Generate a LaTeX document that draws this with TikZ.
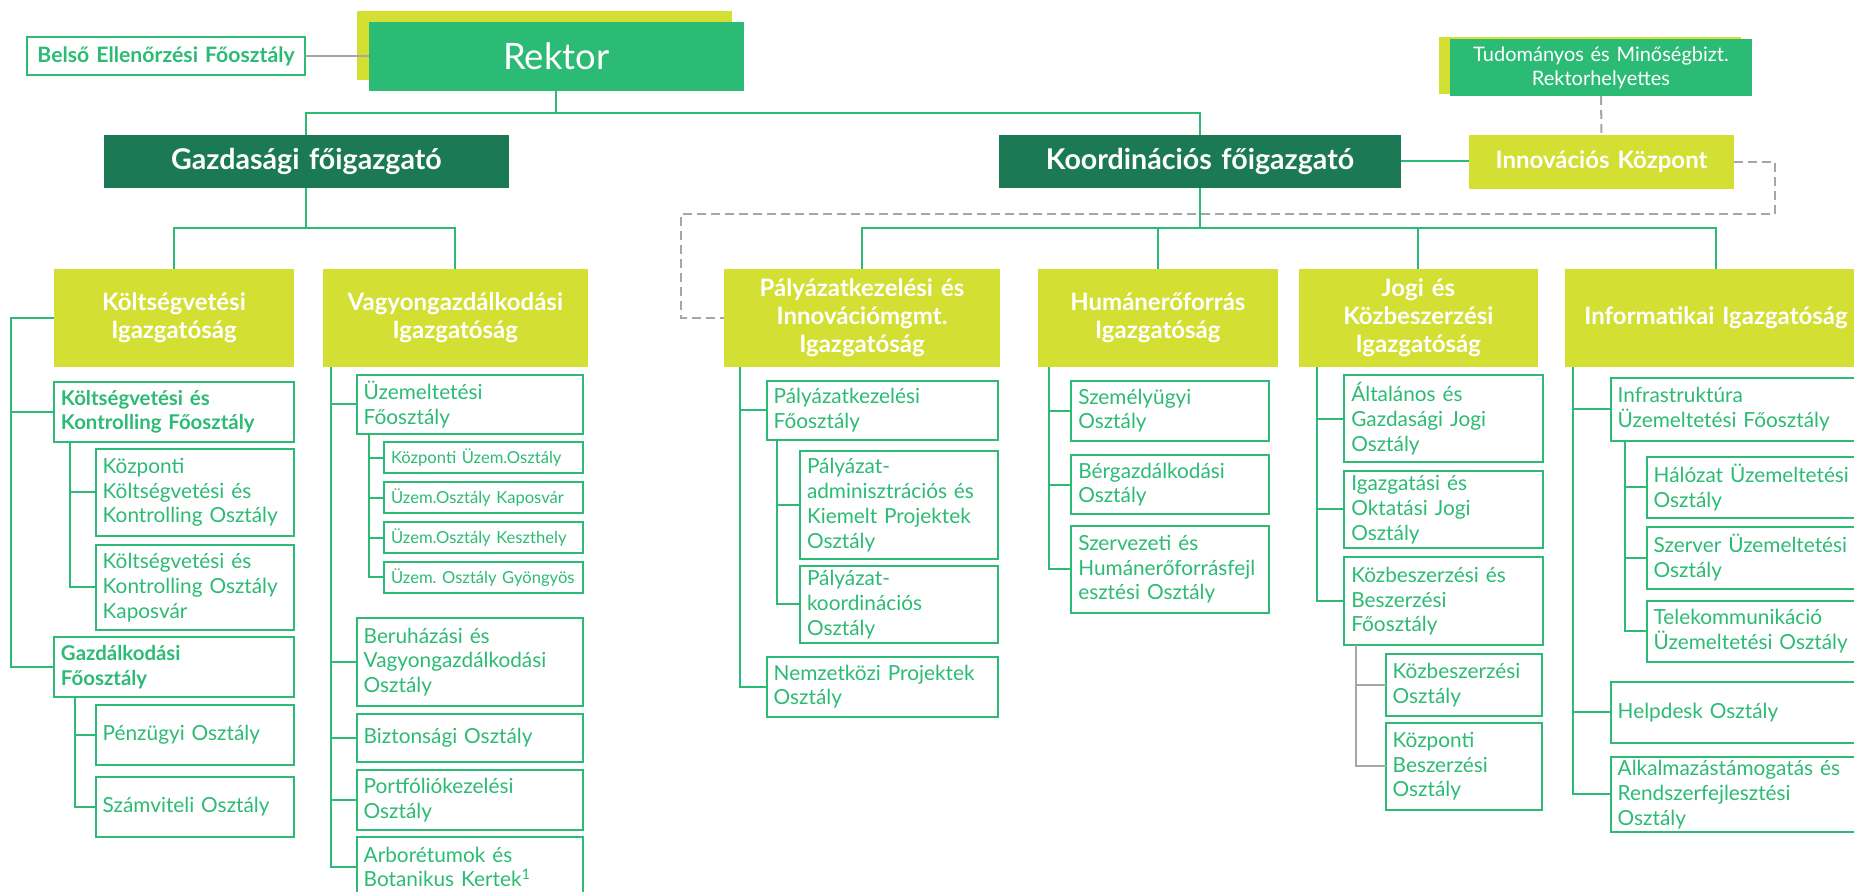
\documentclass[tikz,border=0pt]{standalone}
\usepackage{fontspec}
\setmainfont{Lato}
\usetikzlibrary{calc}
\definecolor{grn}{HTML}{2CBB75}
\definecolor{dgrn}{HTML}{1B7A55}
\definecolor{ylw}{HTML}{D4DF33}
\definecolor{gry}{HTML}{A6A6A6}
\tikzset{
 bx/.style={rectangle, inner xsep=3pt, inner ysep=0pt, outer sep=0pt, execute at begin node={\hyphenpenalty=10000\exhyphenpenalty=10000}},
 boxw/.style={bx, draw=grn, fill=white, line width=1pt, text=grn, align=left, font=\fontsize{10.4}{12.4}\selectfont},
 boxb/.style={boxw, font=\bfseries\fontsize{10.2}{12.4}\selectfont},
 boxs/.style={boxw, font=\fontsize{8.3}{10}\selectfont},
 lvl/.style={bx, fill=ylw, text=white, align=center, font=\bfseries\fontsize{12}{14}\selectfont},
 dark/.style={bx, fill=dgrn, text=white, align=center, font=\bfseries\fontsize{14.3}{16}\selectfont},
 rekt/.style={bx, fill=grn, text=white, align=center, font=\fontsize{18.2}{20}\selectfont},
 tudst/.style={bx, fill=grn, text=white, align=center, font=\fontsize{10}{12}\selectfont},
 innovst/.style={bx, fill=ylw, text=white, align=center, font=\bfseries\fontsize{12}{14}\selectfont},
 belsost/.style={bx, draw=grn, line width=1pt, fill=white, text=grn, align=center, font=\bfseries\fontsize{10.6}{12.5}\selectfont},
 shad/.style={bx, fill=ylw},
 conn/.style={draw=grn, line width=1pt},
 grayconn/.style={draw=gry, line width=1pt},
 dashconn/.style={draw=gry, line width=1pt, dash pattern=on 4.5pt off 2.5pt},
}
\newcommand\BX[7]{%
  \pgfmathsetmacro\bxw{(#5-#3)*0.5}%
  \pgfmathsetmacro\bxh{(#6-#4)*0.5}%
  \pgfmathsetmacro\bxt{(#5-#3)*0.5-7}%
  \node[#2, anchor=north west, minimum width=\bxw pt, minimum height=\bxh pt, text width=\bxt pt] (#1) at (#3,#4) {#7};}
\begin{document}
\begin{tikzpicture}[x=0.5pt,y=-0.5pt]
\useasboundingbox (0,0) rectangle (1854,892);
\clip (0,0) rectangle (1854,892);
\fill[white] (0,0) rectangle (1854,892);
% top level
\BX{rsh}{shad}{357}{11}{732}{80}{}
\BX{rektor}{rekt}{368.8}{22}{743.7}{90.7}{Rektor}
\BX{belso}{belsost}{26.9}{37.3}{305.2}{75}{\mbox{Belső Ellenőrzési Főosztály}}
\BX{tsh}{shad}{1439}{37.3}{1741}{94}{}
\BX{tud}{tudst}{1450}{39}{1752}{96}{Tudományos és Minőségbizt.\\Rektorhelyettes}
\BX{gazd}{dark}{104}{135}{508.8}{187.7}{Gazdasági főigazgató}
\BX{koord}{dark}{999}{135}{1401}{187.7}{Koordinációs főigazgató}
\BX{innov}{innovst}{1469}{135}{1734}{188.7}{Innovációs Központ}
% level 2
\BX{koltig}{lvl}{54}{269}{294}{367.3}{Költségvetési\\Igazgatóság}
\BX{vagyon}{lvl}{323}{269}{587.7}{367.3}{Vagyongazdálkodási\\Igazgatóság}
\BX{palig}{lvl}{724}{269}{1000}{367.3}{Pályázatkezelési és\\Innovációmgmt.\\Igazgatóság}
\BX{humig}{lvl}{1038}{269}{1277.7}{367.3}{Humánerőforrás\\Igazgatóság}
\BX{jogig}{lvl}{1299}{269}{1537.7}{367.3}{Jogi és\\Közbeszerzési\\Igazgatóság}
\BX{infig}{lvl}{1565}{269}{1867}{367.3}{Informatikai~Igazgatóság}
% Költségvetési
\BX{kkf}{boxb}{54}{381.7}{294}{441.7}{Költségvetési és\\Kontrolling~Főosztály}
\BX{kkoz}{boxw}{95.7}{448.7}{294}{536}{Központi\\Költségvetési~és\\Kontrolling~Osztály}
\BX{kkap}{boxw}{95.7}{544.7}{294}{630}{Költségvetési~és\\Kontrolling~Osztály\\Kaposvár}
\BX{gfo}{boxb}{54}{637.3}{294}{697.3}{Gazdálkodási\\Főosztály}
\BX{penz}{boxw}{95.7}{705}{294}{765}{Pénzügyi~Osztály}
\BX{szam}{boxw}{95.7}{776.7}{294}{836.7}{Számviteli~Osztály}
% Vagyongazdálkodási
\BX{uzfo}{boxw}{356.7}{374.7}{582.7}{434}{Üzemeltetési\\Főosztály}
\BX{uz1}{boxs}{384}{442.3}{582.7}{473.3}{Központi~Üzem.Osztály}
\BX{uz2}{boxs}{384}{482.3}{582.7}{513.3}{Üzem.Osztály~Kaposvár}
\BX{uz3}{boxs}{384}{522}{582.7}{553.3}{Üzem.Osztály~Keszthely}
\BX{uz4}{boxs}{384}{562}{582.7}{592.7}{Üzem.~Osztály~Gyöngyös}
\BX{beru}{boxw}{356.7}{618.3}{582.7}{705.7}{Beruházási és\\Vagyongazdálkodási\\Osztály}
\BX{bizt}{boxw}{356.7}{713.7}{582.7}{762.3}{Biztonsági~Osztály}
\BX{portf}{boxw}{356.7}{770}{582.7}{830}{Portfóliókezelési\\Osztály}
\BX{arbo}{boxw}{356.7}{836.7}{582.7}{897}{Arborétumok~és\\Botanikus~Kertek\textsuperscript{1}}
% Pályázat
\BX{palfo}{boxw}{766.7}{380.7}{998.3}{440}{Pályázatkezelési\\Főosztály}
\BX{paladm}{boxw}{800}{451}{998.3}{559}{Pályázat-\\adminisztrációs~és\\Kiemelt~Projektek\\Osztály}
\BX{palkoord}{boxw}{800}{565.7}{998.3}{643.3}{Pályázat-\\koordinációs\\Osztály}
\BX{nemz}{boxw}{766.7}{656.7}{998.3}{716.7}{Nemzetközi~Projektek\\Osztály}
% Humán
\BX{szem}{boxw}{1071.3}{380.7}{1269}{440.7}{Személyügyi\\Osztály}
\BX{ber}{boxw}{1071.3}{455}{1269}{514.3}{Bérgazdálkodási\\Osztály}
\BX{szerv}{boxw}{1071.3}{525.7}{1269}{612.7}{Szervezeti~és\\Humánerőforrásfejl\\esztési~Osztály}
% Jogi
\BX{alt}{boxw}{1344.3}{375}{1542.7}{462.3}{Általános~és\\Gazdasági~Jogi\\Osztály}
\BX{igaz}{boxw}{1344.3}{470.7}{1542.7}{548.3}{Igazgatási~és\\Oktatási~Jogi\\Osztály}
\BX{kbfo}{boxw}{1344.3}{557.3}{1542.7}{645}{Közbeszerzési~és\\Beszerzési\\Főosztály}
\BX{kbo}{boxw}{1385.7}{654}{1542.3}{716}{Közbeszerzési\\Osztály}
\BX{kpb}{boxw}{1385.7}{722.7}{1542.3}{810}{Központi\\Beszerzési\\Osztály}
% Informatikai
\BX{infra}{boxw}{1610.7}{378.3}{1880}{440.7}{Infrastruktúra\\Üzemeltetési~Főosztály}
\BX{hal}{boxw}{1646.7}{456.7}{1880}{518.3}{Hálózat~Üzemeltetési\\Osztály}
\BX{szerver}{boxw}{1646.7}{526.7}{1880}{589}{Szerver~Üzemeltetési\\Osztály}
\BX{tele}{boxw}{1646.7}{600.7}{1880}{662.3}{Telekommunikáció\\Üzemeltetési~Osztály}
\BX{help}{boxw}{1610.7}{681.7}{1880}{743.3}{Helpdesk~Osztály}
\BX{alk}{boxw}{1610.7}{756.7}{1880}{832.3}{Alkalmazástámogatás~és\\Rendszerfejlesztési\\Osztály}
% helper coordinates
\coordinate (h1) at (0,112.7);
\coordinate (h2) at (0,228.3);
\coordinate (d1) at (1775,214);
\coordinate (d2) at (681,214);
\coordinate (bk) at (11,0);
\coordinate (bk2) at (70,0);
\coordinate (bk3) at (75,0);
\coordinate (bv) at (330.7,0);
\coordinate (bv2) at (369,0);
\coordinate (bp) at (740,0);
\coordinate (bp2) at (776.7,0);
\coordinate (bh) at (1049,0);
\coordinate (bj) at (1316.7,0);
\coordinate (bj2) at (1356,0);
\coordinate (bi) at (1573.3,0);
\coordinate (bi2) at (1624.7,0);
% connectors
\draw[grayconn] (belso.east) -- (belso.east -| rektor.west);
\draw[conn] (rektor.south) -- (rektor.south |- h1) -| (gazd.north);
\draw[conn] (rektor.south |- h1) -| (koord.north);
\draw[conn] (gazd.south) -- (gazd.south |- h2) -| (koltig.north);
\draw[conn] (gazd.south |- h2) -| (vagyon.north);
\draw[conn] (koord.south) -- (koord.south |- h2) -| (palig.north);
\draw[conn] (koord.south |- h2) -| (humig.north);
\draw[conn] (koord.south |- h2) -| (jogig.north);
\draw[conn] (koord.south |- h2) -| (infig.north);
\draw[conn] (koord.east) -- (koord.east -| innov.west);
\draw[dashconn] (tud.south) -- (innov.north);
\draw[dashconn] (innov.east) -| (d1) -- (d2) |- (palig.west);
% Költségvetési
\draw[conn] (koltig.west) -| (bk |- gfo.west) -- (gfo.west);
\draw[conn] (bk |- kkf.west) -- (kkf.west);
\draw[conn] (kkf.south -| bk2) |- (kkap.west);
\draw[conn] (bk2 |- kkoz.west) -- (kkoz.west);
\draw[conn] (gfo.south -| bk3) |- (szam.west);
\draw[conn] (bk3 |- penz.west) -- (penz.west);
% Vagyon
\draw[conn] (vagyon.south -| bv) |- (arbo.west);
\draw[conn] (bv |- uzfo.west) -- (uzfo.west);
\draw[conn] (bv |- beru.west) -- (beru.west);
\draw[conn] (bv |- bizt.west) -- (bizt.west);
\draw[conn] (bv |- portf.west) -- (portf.west);
\draw[conn] (uzfo.south -| bv2) |- (uz4.west);
\draw[conn] (bv2 |- uz1.west) -- (uz1.west);
\draw[conn] (bv2 |- uz2.west) -- (uz2.west);
\draw[conn] (bv2 |- uz3.west) -- (uz3.west);
% Pályázat
\draw[conn] (palig.south -| bp) |- (nemz.west);
\draw[conn] (bp |- palfo.west) -- (palfo.west);
\draw[conn] (palfo.south -| bp2) |- (palkoord.west);
\draw[conn] (bp2 |- paladm.west) -- (paladm.west);
% Humán
\draw[conn] (humig.south -| bh) |- (szerv.west);
\draw[conn] (bh |- szem.west) -- (szem.west);
\draw[conn] (bh |- ber.west) -- (ber.west);
% Jogi
\draw[conn] (jogig.south -| bj) |- (kbfo.west);
\draw[conn] (bj |- alt.west) -- (alt.west);
\draw[conn] (bj |- igaz.west) -- (igaz.west);
\draw[grayconn] (kbfo.south -| bj2) |- (kpb.west);
\draw[grayconn] (bj2 |- kbo.west) -- (kbo.west);
% Informatikai
\draw[conn] (infig.south -| bi) |- (alk.west);
\draw[conn] (bi |- infra.west) -- (infra.west);
\draw[conn] (bi |- help.west) -- (help.west);
\draw[conn] (infra.south -| bi2) |- (tele.west);
\draw[conn] (bi2 |- hal.west) -- (hal.west);
\draw[conn] (bi2 |- szerver.west) -- (szerver.west);
\end{tikzpicture}
\end{document}
